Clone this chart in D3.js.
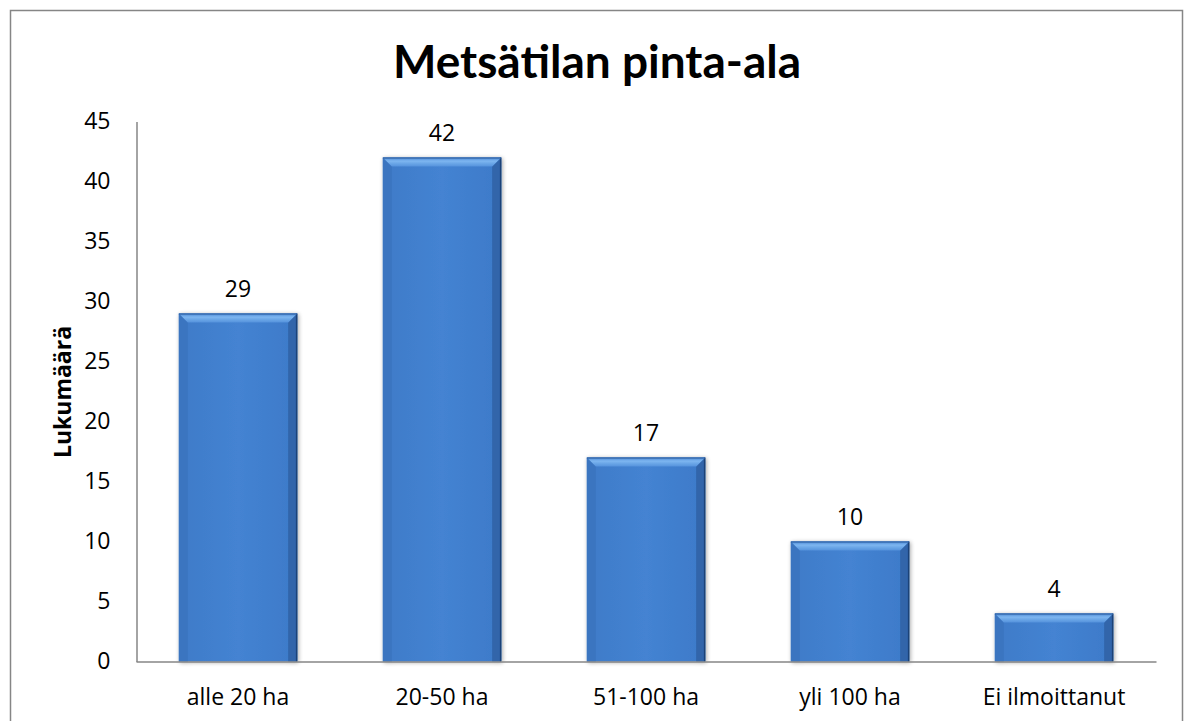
<!DOCTYPE html>
<html><head><meta charset="utf-8">
<script src="https://cdn.jsdelivr.net/npm/d3@7"></script>
<style>body{margin:0;background:#fff}svg{display:block}text{font-family:"Open Sans","Noto Sans",sans-serif}</style>
</head><body><svg id="c" width="1190" height="721"></svg>
<script>
const categories = ["alle 20 ha","20-50 ha","51-100 ha","yli 100 ha","Ei ilmoittanut"];
const values = [29,42,17,10,4];
const yTicks = [0,5,10,15,20,25,30,35,40,45];
const title = "Metsätilan pinta-ala";
const yTitle = "Lukumäärä";

const svg = d3.select("#c");
svg.append("rect").attr("x",10.5).attr("y",10.5).attr("width",1172).attr("height",720)
  .attr("fill","#fff").attr("stroke","#868686").attr("stroke-width",1.5);

const x = d3.scaleBand().domain(categories).range([136,1156]).paddingInner(0.42).paddingOuter(0.21);
const y = d3.scaleLinear().domain([0,45]).range([661.5,121.5]);

const defs = svg.append("defs");
const g1 = defs.append("linearGradient").attr("id","topG").attr("x1",0).attr("y1",0).attr("x2",0).attr("y2",1);
g1.append("stop").attr("offset","0").attr("stop-color","#4a86d4");
g1.append("stop").attr("offset","0.4").attr("stop-color","#7db6f0");
g1.append("stop").attr("offset","1").attr("stop-color","#5592dc");
const g2 = defs.append("linearGradient").attr("id","bodyG").attr("x1",0).attr("y1",0).attr("x2",1).attr("y2",0);
g2.append("stop").attr("offset","0").attr("stop-color","#3f7bc8");
g2.append("stop").attr("offset","0.5").attr("stop-color","#4483d2");
g2.append("stop").attr("offset","1").attr("stop-color","#3d7ac9");
const f = defs.append("filter").attr("id","sh").attr("x","-10%").attr("y","-10%").attr("width","130%").attr("height","130%");
f.append("feGaussianBlur").attr("in","SourceAlpha").attr("stdDeviation",2);
f.append("feOffset").attr("dx",1).attr("dy",1).attr("result","b");
f.append("feComponentTransfer").append("feFuncA").attr("type","linear").attr("slope",0.35);
const m = f.append("feMerge"); m.append("feMergeNode"); m.append("feMergeNode").attr("in","SourceGraphic");

const yAxis = d3.axisLeft(y).tickValues(yTicks).tickSize(0).tickPadding(26);
const ya = svg.append("g").attr("transform","translate(136.5,0)").call(yAxis);
ya.select(".domain").attr("stroke","#868686").attr("stroke-width",1.5);
ya.attr("font-family",null);
ya.selectAll("text").attr("font-size",23).attr("fill","#000");

const bars = svg.append("g");
const b = 9;
categories.forEach((c,i)=>{
  const x0 = x(c), w = x.bandwidth(), y0 = y(values[i]), y1 = y(0);
  const g = bars.append("g").attr("filter","url(#sh)");
  g.append("rect").attr("x",x0).attr("y",y0).attr("width",w).attr("height",y1-y0).attr("fill","url(#bodyG)");
  g.append("polygon").attr("points",`${x0},${y0} ${x0+b},${y0+b} ${x0+b},${y1} ${x0},${y1}`).attr("fill","#3b75c0");
  g.append("polygon").attr("points",`${x0+w},${y0} ${x0+w-b},${y0+b} ${x0+w-b},${y1} ${x0+w},${y1}`).attr("fill","#3165aa");
  g.append("line").attr("x1",x0+w-0.5).attr("x2",x0+w-0.5).attr("y1",y0).attr("y2",y1).attr("stroke","#1d4277").attr("stroke-width",1.5);
  g.append("polygon").attr("points",`${x0},${y0} ${x0+w},${y0} ${x0+w-b},${y0+b} ${x0+b},${y0+b}`).attr("fill","url(#topG)");
  g.append("line").attr("x1",x0).attr("x2",x0+w).attr("y1",y0+0.5).attr("y2",y0+0.5).attr("stroke","#2b5a9a").attr("stroke-width",1);
  svg.append("text").attr("x",x0+w/2).attr("y",y0-17).attr("text-anchor","middle")
    .attr("font-size",23).attr("fill","#000").text(values[i]);
});

const xAxis = d3.axisBottom(x).tickSize(0).tickPadding(27);
const xa = svg.append("g").attr("transform","translate(0,661.5)").call(xAxis);
xa.select(".domain").attr("stroke","#868686").attr("stroke-width",1.5);
xa.attr("font-family",null);
xa.selectAll("text").attr("font-size",23).attr("fill","#000");

svg.append("text").attr("x",597).attr("y",78).attr("text-anchor","middle")
  .style("font-family","Lato, sans-serif")
  .attr("font-size",46).attr("font-weight","bold").attr("fill","#000").text(title);
svg.append("text").attr("transform","translate(71,392) rotate(-90)").attr("text-anchor","middle")
  .attr("font-size",23).attr("font-weight","bold").attr("fill","#000").text(yTitle);
</script></body></html>
